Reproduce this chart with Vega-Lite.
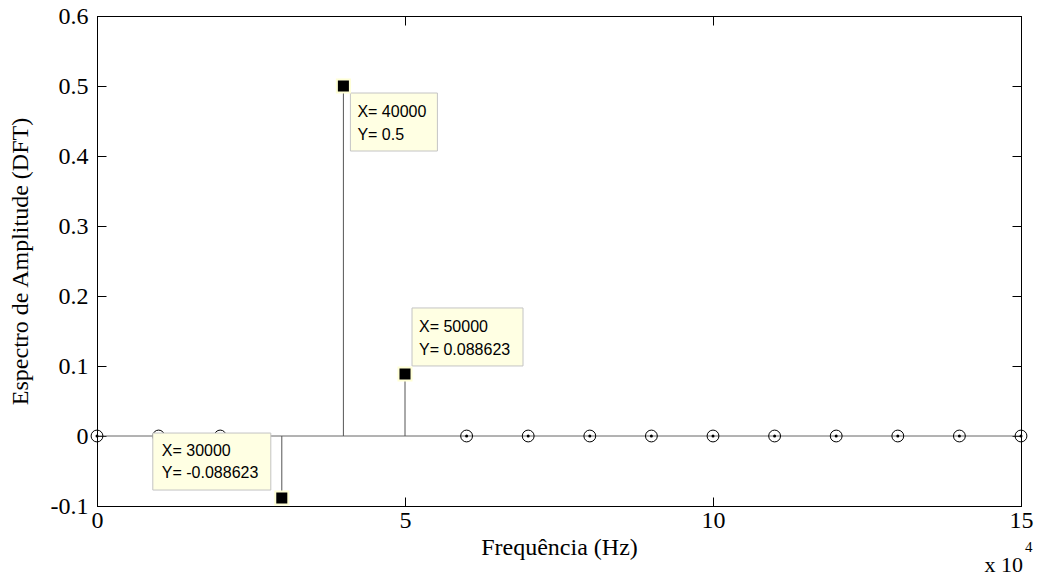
{
  "$schema": "https://vega.github.io/schema/vega-lite/v6.json",
  "width": 924,
  "height": 490,
  "autosize": "none",
  "padding": {"left": 97, "top": 16, "right": 16, "bottom": 72},
  "background": "white",
  "config": {
    "view": {"stroke": "black", "strokeWidth": 1},
    "axis": {
      "domainColor": "black",
      "tickColor": "black",
      "labelColor": "black",
      "titleColor": "black",
      "labelFont": "Liberation Serif",
      "titleFont": "Liberation Serif",
      "labelFontSize": 24,
      "titleFontSize": 24,
      "labelFontWeight": "normal",
      "titleFontWeight": "normal",
      "grid": false,
      "tickSize": -9,
      "labelFlush": false,
      "labelOverlap": false
    }
  },
  "datasets": {
    "spectrum": [
      {"freq": 0, "amp": 0},
      {"freq": 10000, "amp": 0},
      {"freq": 20000, "amp": 0},
      {"freq": 30000, "amp": -0.088623},
      {"freq": 40000, "amp": 0.5},
      {"freq": 50000, "amp": 0.088623},
      {"freq": 60000, "amp": 0},
      {"freq": 70000, "amp": 0},
      {"freq": 80000, "amp": 0},
      {"freq": 90000, "amp": 0},
      {"freq": 100000, "amp": 0},
      {"freq": 110000, "amp": 0},
      {"freq": 120000, "amp": 0},
      {"freq": 130000, "amp": 0},
      {"freq": 140000, "amp": 0},
      {"freq": 150000, "amp": 0}
    ],
    "single": [{"note": "exponent"}]
  },
  "data": {"name": "spectrum"},
  "transform": [
    {"calculate": "['X= ' + datum.freq, 'Y= ' + datum.amp]", "as": "tip"}
  ],
  "resolve": {"axis": {"x": "independent", "y": "independent"}},
  "layer": [
    {
      "data": {"name": "single"},
      "mark": {"type": "rule", "color": "#666666", "strokeWidth": 1},
      "encoding": {
        "y": {"datum": 0, "type": "quantitative", "scale": {"domain": [-0.1, 0.6], "nice": false, "zero": false}, "axis": null}
      }
    },
    {
      "transform": [{"filter": "datum.amp != 0"}],
      "mark": {"type": "rule", "color": "#555555", "strokeWidth": 1},
      "encoding": {
        "x": {
          "field": "freq", "type": "quantitative",
          "scale": {"domain": [0, 150000], "nice": false, "zero": false},
          "axis": {
            "orient": "bottom",
            "values": [0, 50000, 100000, 150000],
            "labelExpr": "toString(datum.value / 10000)",
            "title": "Frequência (Hz)",
            "labelPadding": 11,
            "titlePadding": 3
          }
        },
        "y": {
          "field": "amp", "type": "quantitative",
          "scale": {"domain": [-0.1, 0.6], "nice": false, "zero": false},
          "axis": {
            "orient": "left",
            "values": [-0.1, 0, 0.1, 0.2, 0.3, 0.4, 0.5, 0.6],
            "labelExpr": "toString(datum.value)",
            "title": "Espectro de Amplitude (DFT)",
            "labelPadding": 18,
            "titlePadding": 18
          }
        },
        "y2": {"datum": 0}
      }
    },
    {
      "transform": [{"filter": "datum.freq < 30000 || datum.freq > 50000"}],
      "mark": {"type": "point", "shape": "circle", "filled": false, "stroke": "black", "strokeWidth": 1, "size": 140, "opacity": 1},
      "encoding": {
        "x": {
          "field": "freq", "type": "quantitative",
          "axis": {"orient": "top", "values": [0, 50000, 100000, 150000], "labels": false, "title": null}
        },
        "y": {
          "field": "amp", "type": "quantitative",
          "axis": {"orient": "right", "values": [-0.1, 0, 0.1, 0.2, 0.3, 0.4, 0.5, 0.6], "labels": false, "title": null}
        }
      }
    },
    {
      "transform": [{"filter": "datum.freq < 30000 || datum.freq > 50000"}],
      "mark": {"type": "point", "shape": "circle", "filled": true, "color": "black", "size": 9, "opacity": 1},
      "encoding": {
        "x": {"field": "freq", "type": "quantitative", "axis": null},
        "y": {"field": "amp", "type": "quantitative", "axis": null}
      }
    },
    {
      "transform": [{"filter": "datum.freq == 40000"}],
      "mark": {"type": "rect", "fill": "#ffffe3", "stroke": "#c4c4c4", "strokeWidth": 1, "xOffset": 7, "x2Offset": 94, "yOffset": 7, "y2Offset": 65},
      "encoding": {
        "x": {"field": "freq", "type": "quantitative", "axis": null},
        "x2": {"field": "freq"},
        "y": {"field": "amp", "type": "quantitative", "axis": null},
        "y2": {"field": "amp"}
      }
    },
    {
      "transform": [{"filter": "datum.freq == 50000"}],
      "mark": {"type": "rect", "fill": "#ffffe3", "stroke": "#c4c4c4", "strokeWidth": 1, "xOffset": 7, "x2Offset": 118, "yOffset": -66, "y2Offset": -8},
      "encoding": {
        "x": {"field": "freq", "type": "quantitative", "axis": null},
        "x2": {"field": "freq"},
        "y": {"field": "amp", "type": "quantitative", "axis": null},
        "y2": {"field": "amp"}
      }
    },
    {
      "transform": [{"filter": "datum.freq == 30000"}],
      "mark": {"type": "rect", "fill": "#ffffe3", "stroke": "#c4c4c4", "strokeWidth": 1, "xOffset": -129, "x2Offset": -11, "yOffset": -65, "y2Offset": -8},
      "encoding": {
        "x": {"field": "freq", "type": "quantitative", "axis": null},
        "x2": {"field": "freq"},
        "y": {"field": "amp", "type": "quantitative", "axis": null},
        "y2": {"field": "amp"}
      }
    },
    {
      "transform": [{"filter": "datum.freq == 40000"}],
      "mark": {"type": "text", "font": "Liberation Sans", "fontSize": 16, "align": "left", "baseline": "alphabetic", "lineHeight": 23, "dx": 14, "dy": 31, "color": "black"},
      "encoding": {
        "x": {"field": "freq", "type": "quantitative", "axis": null},
        "y": {"field": "amp", "type": "quantitative", "axis": null},
        "text": {"field": "tip"}
      }
    },
    {
      "transform": [{"filter": "datum.freq == 50000"}],
      "mark": {"type": "text", "font": "Liberation Sans", "fontSize": 16, "align": "left", "baseline": "alphabetic", "lineHeight": 23, "dx": 14, "dy": -42, "color": "black"},
      "encoding": {
        "x": {"field": "freq", "type": "quantitative", "axis": null},
        "y": {"field": "amp", "type": "quantitative", "axis": null},
        "text": {"field": "tip"}
      }
    },
    {
      "transform": [{"filter": "datum.freq == 30000"}],
      "mark": {"type": "text", "font": "Liberation Sans", "fontSize": 16, "align": "left", "baseline": "alphabetic", "lineHeight": 22, "dx": -120, "dy": -42, "color": "black"},
      "encoding": {
        "x": {"field": "freq", "type": "quantitative", "axis": null},
        "y": {"field": "amp", "type": "quantitative", "axis": null},
        "text": {"field": "tip"}
      }
    },
    {
      "transform": [{"filter": "datum.freq >= 30000 && datum.freq <= 50000"}],
      "mark": {"type": "point", "shape": "square", "filled": true, "fill": "black", "stroke": "#ffffd6", "strokeWidth": 2, "size": 170, "opacity": 1},
      "encoding": {
        "x": {"field": "freq", "type": "quantitative", "axis": null},
        "y": {"field": "amp", "type": "quantitative", "axis": null}
      }
    },
    {
      "data": {"name": "single"},
      "mark": {"type": "text", "font": "Liberation Serif", "fontSize": 22, "fontWeight": "normal", "align": "right", "baseline": "alphabetic", "dx": 2, "dy": 66, "color": "black", "text": "x 10"},
      "encoding": {
        "x": {"datum": 150000, "type": "quantitative", "axis": null},
        "y": {"datum": -0.1, "type": "quantitative", "axis": null}
      }
    },
    {
      "data": {"name": "single"},
      "mark": {"type": "text", "font": "Liberation Serif", "fontSize": 15, "fontWeight": "normal", "align": "left", "baseline": "alphabetic", "dx": 4, "dy": 46, "color": "black", "text": "4"},
      "encoding": {
        "x": {"datum": 150000, "type": "quantitative", "axis": null},
        "y": {"datum": -0.1, "type": "quantitative", "axis": null}
      }
    }
  ]
}
